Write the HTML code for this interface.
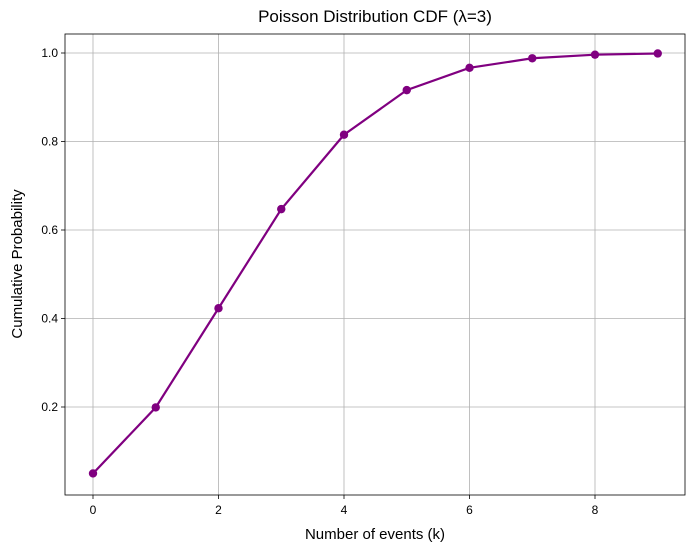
<!DOCTYPE html>
<html><head><meta charset="utf-8"><style>
body{margin:0;background:#fff;font-family:"Liberation Sans","DejaVu Sans",sans-serif}
</style></head><body>
<svg id="chart" width="695" height="552" xmlns="http://www.w3.org/2000/svg">
<text x="375" y="22" text-anchor="middle" font-size="17" fill="#000">Poisson Distribution CDF (λ=3)</text>
<text x="375" y="539" text-anchor="middle" font-size="15">Number of events (k)</text>
<text transform="translate(22,264) rotate(-90)" text-anchor="middle" font-size="15">Cumulative Probability</text>
<g id="grid"></g><g id="series"></g>
<rect x="65" y="34" width="620" height="461" fill="none" stroke="#000" stroke-width="0.8"/>
</svg>
<script>
const categories=[0,1,2,3,4,5,6,7,8,9];
const cdfValues=[0.0498,0.1991,0.4232,0.6472,0.8153,0.9161,0.9665,0.9881,0.9962,0.9989];
const xTicks=[0,2,4,6,8];
const yTicks=[0.2,0.4,0.6,0.8,1.0];
const NS="http://www.w3.org/2000/svg";
const X=v=>93+v*62.75, Y=v=>495.5-v*442.5;
const grid=document.getElementById('grid'), ser=document.getElementById('series');
function mk(tag,attrs,parent){const e=document.createElementNS(NS,tag);for(const k in attrs)e.setAttribute(k,attrs[k]);parent.appendChild(e);return e;}
xTicks.forEach(t=>{
 const l=mk('line',{x1:X(t),x2:X(t),y1:34,y2:495,stroke:'#b0b0b0','stroke-width':0.8},grid);
 
 
 mk('line',{x1:X(t),x2:X(t),y1:495,y2:499,stroke:'#000','stroke-width':0.8},grid);
 const tx=mk('text',{x:X(t),y:514,'text-anchor':'middle','font-size':12},grid);tx.textContent=t;
 
 
});
yTicks.forEach(t=>{
 const l=mk('line',{x1:65,x2:685,y1:Y(t),y2:Y(t),stroke:'#b0b0b0','stroke-width':0.8},grid);
 
 
 mk('line',{x1:61,x2:65,y1:Y(t),y2:Y(t),stroke:'#000','stroke-width':0.8},grid);
 const tx=mk('text',{x:58,y:Y(t)+4,'text-anchor':'end','font-size':12},grid);tx.textContent=t.toFixed(1);
 
 
});
const pts=categories.map((c,i)=>X(c)+','+Y(cdfValues[i])).join(' ');
const pl=mk('polyline',{points:pts,fill:'none',stroke:'#800080','stroke-width':2.2},ser);


categories.forEach((c,i)=>{
 const p=mk('circle',{cx:X(c),cy:Y(cdfValues[i]),r:4.2,fill:'#800080'},ser);
 
 
});
</script>
</body></html>
